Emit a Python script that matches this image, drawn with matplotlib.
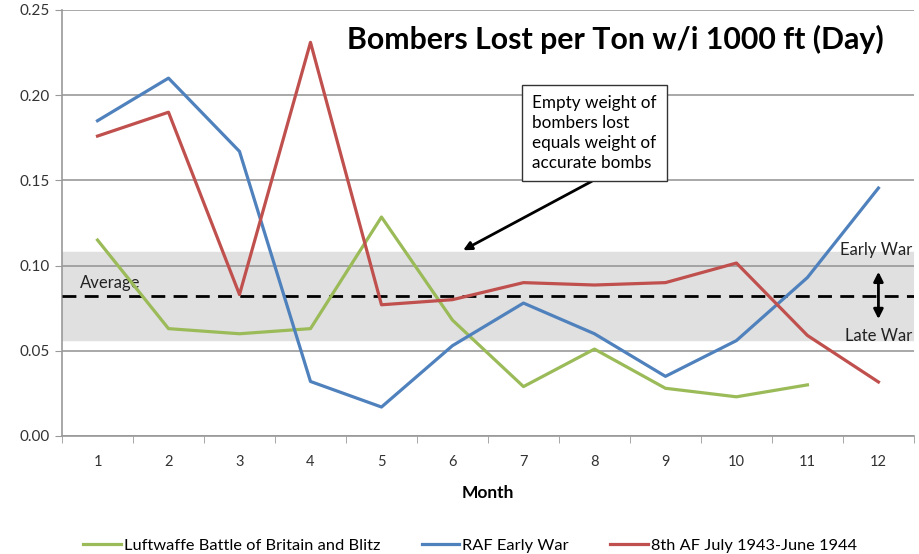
import numpy as np
import matplotlib.pyplot as plt

months = list(range(1, 13))
luftwaffe = [0.115, 0.063, 0.060, 0.063, 0.1285, 0.068, 0.029, 0.051, 0.028, 0.023, 0.030]
raf = [0.185, 0.210, 0.167, 0.032, 0.017, 0.053, 0.078, 0.060, 0.035, 0.056, 0.093, 0.1455]
eighth_af = [0.176, 0.190, 0.083, 0.231, 0.077, 0.080, 0.090, 0.0886, 0.090, 0.1015, 0.059, 0.0317]

average = 0.082
band_low, band_high = 0.0563, 0.108

plt.rcParams['font.family'] = ['Lato', 'DejaVu Sans']

fig = plt.figure(figsize=(9.2, 5.54), dpi=100)
ax = fig.add_axes([0.0674, 0.213, 0.926, 0.769])

ax.axhspan(band_low, band_high, color="#e0e0e0", zorder=0)
ax.axhline(average, color="black", linestyle=(0, (5, 3)), linewidth=2, zorder=3)

ax.plot(months[:11], luftwaffe, color="#9bbb59", linewidth=2.3, label="Luftwaffe Battle of Britain and Blitz", zorder=4)
ax.plot(months, raf, color="#4f81bd", linewidth=2.3, label="RAF Early War", zorder=4)
ax.plot(months, eighth_af, color="#c0504d", linewidth=2.3, label="8th AF July 1943-June 1944", zorder=4)

ax.set_xlim(0.5, 12.5)
ax.set_ylim(0, 0.25)
ax.set_yticks(np.arange(0, 0.26, 0.05))
ax.set_yticklabels([f"{v:.2f}" for v in np.arange(0, 0.26, 0.05)])
ax.set_xticks(months)
ax.set_xticks(np.arange(0.5, 13, 1), minor=True)
ax.tick_params(axis="x", which="major", length=0, pad=14, labelsize=10.5, colors="#333333")
ax.tick_params(axis="x", which="minor", length=5, color="#999999")
ax.tick_params(axis="y", length=5, color="#999999", labelsize=11, colors="#333333")
ax.yaxis.grid(True, color="#999999", linewidth=1.2)
ax.set_axisbelow(True)
for s in ["top", "right"]:
    ax.spines[s].set_visible(False)
for s in ["left", "bottom"]:
    ax.spines[s].set_color("#999999")
    ax.spines[s].set_linewidth(1.2)

ax.set_xlabel("Month", fontweight="bold", fontsize=12.5, labelpad=11)

ax.text(0.65, 0.93, "Bombers Lost per Ton w/i 1000 ft (Day)", transform=ax.transAxes,
        fontsize=21.8, fontweight="bold", va="center", ha="center")

ax.annotate("Empty weight of\nbombers lost\nequals weight of\naccurate bombs",
            xy=(6.15, 0.109), xytext=(8.0, 0.178), fontsize=12.3, ha="center", va="center",
            multialignment="left", linespacing=1.3,
            bbox=dict(boxstyle="square,pad=0.6", fc="white", ec="#333333", lw=1),
            arrowprops=dict(arrowstyle="-|>", color="black", lw=2, shrinkA=0, shrinkB=0,
                            relpos=(0.64, 0.0)),
            zorder=5)

ax.text(0.75, 0.090, "Average", fontsize=12, color="#222222", va="center")
ax.text(12.47, 0.109, "Early War", fontsize=12, color="#222222", ha="right", va="center")
ax.text(12.47, 0.0587, "Late War", fontsize=12, color="#222222", ha="right", va="center")
ax.annotate("", xy=(12.0, 0.067), xytext=(12.0, 0.098),
            arrowprops=dict(arrowstyle="<|-|>", color="black", lw=2, mutation_scale=14))

fig.legend(loc="lower center", ncol=3, frameon=False, fontsize=11.8, handlelength=2.3,
           handletextpad=0.2, columnspacing=2.5, bbox_to_anchor=(0.511, -0.025))

fig.savefig("out.png", dpi=100)
